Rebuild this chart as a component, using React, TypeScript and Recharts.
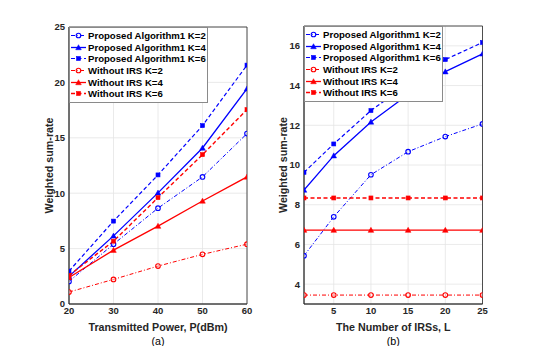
import React from 'react';
import { LineChart, Line, XAxis, YAxis, CartesianGrid, Legend, ReferenceArea } from 'recharts';

// ---------- data: panel (a) ----------
const powerLevels = [20, 30, 40, 50, 60];
const proposedK2Power = [2.04, 5.4, 8.65, 11.47, 15.38];
const proposedK4Power = [2.5, 6.15, 10.03, 14.08, 19.43];
const proposedK6Power = [2.97, 7.48, 11.65, 16.1, 21.56];
const withoutK2Power = [1.08, 2.22, 3.42, 4.48, 5.4];
const withoutK4Power = [2.4, 4.86, 7.03, 9.3, 11.47];
const withoutK6Power = [2.58, 5.67, 9.6, 13.48, 17.54];

// ---------- data: panel (b) ----------
const irsCounts = [1, 5, 10, 15, 20, 25];
const proposedK2Irs = [5.43, 7.39, 9.51, 10.67, 11.43, 12.07];
const proposedK4Irs = [8.74, 10.47, 12.17, 13.55, 14.7, 15.6];
const proposedK6Irs = [9.63, 11.06, 12.74, 14.1, 15.31, 16.17];
const withoutK2Irs = [3.45, 3.45, 3.45, 3.45, 3.45, 3.45];
const withoutK4Irs = [6.72, 6.72, 6.72, 6.72, 6.72, 6.72];
const withoutK6Irs = [8.34, 8.34, 8.34, 8.34, 8.34, 8.34];

// ---------- ticks / labels ----------
const powerTicks = [20, 30, 40, 50, 60];
const rateTicksA = [0, 5, 10, 15, 20, 25];
const irsTicks = [5, 10, 15, 20, 25];
const rateTicksB = [4, 6, 8, 10, 12, 14, 16];
const seriesNames = [
  'Proposed Algorithm1 K=2',
  'Proposed Algorithm1 K=4',
  'Proposed Algorithm1 K=6',
  'Without IRS K=2',
  'Without IRS K=4',
  'Without IRS K=6',
];
const seriesKeys = ['p2', 'p4', 'p6', 'w2', 'w4', 'w6'];
const xLabelA = 'Transmitted Power, P(dBm)';
const xLabelB = 'The Number of IRSs, L';
const yLabel = 'Weighted sum-rate';
const captionA = '(a)';
const captionB = '(b)';

const powerTable = powerLevels.map((x, i) => ({
  x,
  p2: proposedK2Power[i],
  p4: proposedK4Power[i],
  p6: proposedK6Power[i],
  w2: withoutK2Power[i],
  w4: withoutK4Power[i],
  w6: withoutK6Power[i],
}));
const irsTable = irsCounts.map((x, i) => ({
  x,
  p2: proposedK2Irs[i],
  p4: proposedK4Irs[i],
  p6: proposedK6Irs[i],
  w2: withoutK2Irs[i],
  w4: withoutK4Irs[i],
  w6: withoutK6Irs[i],
}));

// ---------- styles ----------
type MarkerKind = 'circle' | 'triangle' | 'square';
const BLUE = '#0000ff';
const RED = '#ff0000';
const DASHDOT = '4 2 1 2';
const DASHED = '4 2.5';
const styles: { color: string; dash?: string; marker: MarkerKind; width: number }[] = [
  { color: BLUE, dash: DASHDOT, marker: 'circle', width: 1 },
  { color: BLUE, dash: undefined, marker: 'triangle', width: 1.3 },
  { color: BLUE, dash: DASHED, marker: 'square', width: 1.2 },
  { color: RED, dash: DASHDOT, marker: 'circle', width: 1 },
  { color: RED, dash: undefined, marker: 'triangle', width: 1.3 },
  { color: RED, dash: DASHED, marker: 'square', width: 1.4 },
];

const FONT = '"Liberation Sans", Arial, Helvetica, sans-serif';
const AXIS_COLOR = '#262626';

function MarkerShape({ kind, cx, cy, color }: { kind: MarkerKind; cx: number; cy: number; color: string }) {
  if (kind === 'circle') {
    return <circle cx={cx} cy={cy} r={2.3} fill="#ffffff" fillOpacity={0.4} stroke={color} strokeWidth={1.1} />;
  }
  if (kind === 'square') {
    return <rect x={cx - 2} y={cy - 2} width={4} height={4} fill={color} stroke={color} strokeWidth={0.6} />;
  }
  const s = 2.8;
  return (
    <path
      d={`M${cx},${cy - s} L${cx + s},${cy + s * 0.8} L${cx - s},${cy + s * 0.8} Z`}
      fill={color}
      stroke={color}
      strokeWidth={0.5}
    />
  );
}

const makeDot = (kind: MarkerKind, color: string) => (props: any) => {
  const { cx, cy, index } = props;
  if (cx == null || cy == null) return <g key={`d-${index}`} />;
  return (
    <g key={`d-${index}`}>
      <MarkerShape kind={kind} cx={cx} cy={cy} color={color} />
    </g>
  );
};

const LegendBox = () => (
  <div
    style={{
      width: 137,
      border: '1px solid #8a8a8a',
      background: '#ffffff',
      padding: '2px 0',
      fontFamily: FONT,
      fontWeight: 'bold',
      fontSize: 9.6,
      color: '#000',
      boxSizing: 'content-box',
    }}
  >
    {seriesNames.map((name, i) => {
      const st = styles[i];
      return (
        <div key={name} style={{ display: 'flex', alignItems: 'center', height: 11.6, whiteSpace: 'nowrap' }}>
          <svg width={17} height={11} style={{ display: 'block', flex: 'none' }}>
            <line x1={1} y1={5.5} x2={16} y2={5.5} stroke={st.color} strokeWidth={st.width} strokeDasharray={st.dash} />
            <MarkerShape kind={st.marker} cx={8.5} cy={5.5} color={st.color} />
          </svg>
          <span style={{ marginLeft: 1 }}>{name}</span>
        </div>
      );
    })}
  </div>
);

const tickStyle = { fontSize: 9.5, fontWeight: 'bold' as const, fill: AXIS_COLOR, fontFamily: FONT };

const makeXLabel = (title: string, caption: string) => (props: any) => {
  const vb = props.viewBox || {};
  const cx = vb.x + vb.width / 2;
  return (
    <g>
      <text x={cx} y={vb.y + 23} textAnchor="middle" dominantBaseline="central" fontFamily={FONT} fontWeight="bold" fontSize={10.7} fill={AXIS_COLOR}>
        {title}
      </text>
      <text x={cx} y={vb.y + 37} textAnchor="middle" dominantBaseline="central" fontFamily={FONT} fontSize={10.7} fill="#000">
        {caption}
      </text>
    </g>
  );
};

const makeYLabel = (labelX: number) => (props: any) => {
  const vb = props.viewBox || {};
  const cy = vb.y + vb.height / 2;
  const x = vb.x + labelX;
  return (
    <text
      x={x}
      y={cy}
      transform={`rotate(-90, ${x}, ${cy})`}
      textAnchor="middle"
      dominantBaseline="central"
      fontFamily={FONT}
      fontWeight="bold"
      fontSize={10.7}
      fill={AXIS_COLOR}
    >
      {yLabel}
    </text>
  );
};

function Panel(props: {
  data: any[];
  width: number;
  margin: { top: number; right: number; bottom: number; left: number };
  yAxisWidth: number;
  xDomain: [number, number];
  yDomain: [number, number];
  xTicks: number[];
  yTicks: number[];
  xTitle: string;
  caption: string;
  yLabelX: number;
  legendLeft: number;
  legendTop: number;
}) {
  const p = props;
  return (
    <LineChart width={p.width} height={346} data={p.data} margin={p.margin}>
      <CartesianGrid stroke="#e4e4e4" strokeWidth={0.8} />
      <XAxis
        dataKey="x"
        type="number"
        domain={p.xDomain}
        ticks={p.xTicks}
        allowDataOverflow
        height={42}
        tick={tickStyle}
        tickLine={false}
        tickSize={0}
        tickMargin={3}
        axisLine={{ stroke: AXIS_COLOR, strokeWidth: 0.8 }}
        label={makeXLabel(p.xTitle, p.caption)}
      />
      <YAxis
        type="number"
        domain={p.yDomain}
        ticks={p.yTicks}
        allowDataOverflow
        width={p.yAxisWidth}
        tick={tickStyle}
        tickLine={false}
        tickSize={0}
        tickMargin={4}
        axisLine={{ stroke: AXIS_COLOR, strokeWidth: 0.8 }}
        label={makeYLabel(p.yLabelX)}
      />
      <ReferenceArea
        x1={p.xDomain[0]}
        x2={p.xDomain[1]}
        y1={p.yDomain[0]}
        y2={p.yDomain[1]}
        fill="none"
        stroke={AXIS_COLOR}
        strokeWidth={0.8}
        strokeOpacity={1}
        fillOpacity={0}
        ifOverflow="visible"
      />
      {seriesKeys.map((k, i) => (
        <Line
          key={k}
          dataKey={k}
          name={seriesNames[i]}
          stroke={styles[i].color}
          strokeWidth={styles[i].width}
          strokeDasharray={styles[i].dash}
          type="linear"
          dot={makeDot(styles[i].marker, styles[i].color)}
          activeDot={false}
          isAnimationActive={false}
        />
      ))}
      <Legend
        layout="vertical"
        align="center"
        verticalAlign="middle"
        content={() => <LegendBox />}
        wrapperStyle={{ left: p.legendLeft, top: p.legendTop, width: 'auto', height: 'auto' }}
      />
    </LineChart>
  );
}

export default function App() {
  return (
    <div style={{ position: 'absolute', left: 0, top: 0, width: 533, height: 346, background: '#ffffff' }}>
      <div style={{ position: 'absolute', left: 0, top: 0 }}>
        <Panel
          data={powerTable}
          width={260}
          margin={{ top: 27, right: 13, bottom: 0, left: 0 }}
          yAxisWidth={69}
          xDomain={[20, 60]}
          yDomain={[0, 25]}
          xTicks={powerTicks}
          yTicks={rateTicksA}
          xTitle={xLabelA}
          caption={captionA}
          yLabelX={49}
          legendLeft={69}
          legendTop={27}
        />
      </div>
      <div style={{ position: 'absolute', left: 260, top: 0 }}>
        <Panel
          data={irsTable}
          width={273}
          margin={{ top: 26, right: 50.5, bottom: 0, left: 0 }}
          yAxisWidth={44}
          xDomain={[1, 25]}
          yDomain={[3, 17]}
          xTicks={irsTicks}
          yTicks={rateTicksB}
          xTitle={xLabelB}
          caption={captionB}
          yLabelX={23.3}
          legendLeft={44}
          legendTop={26}
        />
      </div>
    </div>
  );
}
